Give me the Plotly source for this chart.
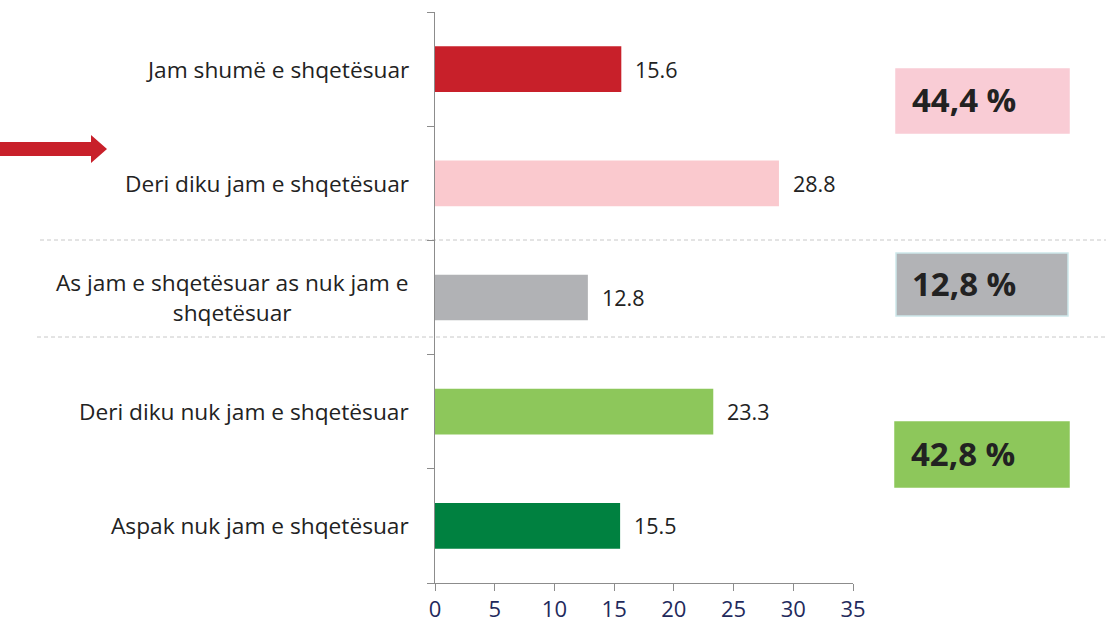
import plotly.graph_objects as go

categories = ["Jam shumë e shqetësuar", "Deri diku jam e shqetësuar",
              "As jam e shqetësuar as nuk jam e<br>shqetësuar",
              "Deri diku nuk jam e shqetësuar", "Aspak nuk jam e shqetësuar"]
values = [15.6, 28.8, 12.8, 23.3, 15.5]
value_labels = ["15.6", "28.8", "12.8", "23.3", "15.5"]
bar_colors = ["#c8202a", "#fac9ce", "#b1b2b5", "#8dc75b", "#008140"]
group_labels = ["44,4 %", "12,8 %", "42,8 %"]
group_colors = ["#f9ccd5", "#b2b3b6", "#8dc75b"]
group_borders = ["#f9ccd5", "#cde8ea", "#8dc75b"]
x_ticks = [0, 5, 10, 15, 20, 25, 30, 35]

W, H = 1106, 628
L, R, T, B = 435, 853, 12, 583
def px(xp): return (xp - L) / (R - L)
def py(yp): return (B - yp) / (B - T)

FONT = "Open Sans"

fig = go.Figure(go.Bar(
    y=categories, x=values, orientation="h",
    marker=dict(color=bar_colors, line=dict(width=0)),
    width=0.4, hoverinfo="skip"))

annotations = []
for c, v, t in zip(categories, values, value_labels):
    annotations.append(dict(x=v, y=c, xref="x", yref="y", text=t, showarrow=False,
                            xanchor="left", xshift=12,
                            font=dict(family=FONT, size=21.5, color="#222222")))
    annotations.append(dict(x=0, y=c, xref="paper", yref="y", text=c, showarrow=False,
                            xanchor="right", xshift=-24, align="center",
                            font=dict(family=FONT, size=22.7, color="#222222")))

shapes = []
# dashed separators
for yp, x0 in [(240, 40), (337, 37)]:
    shapes.append(dict(type="line", xref="paper", yref="paper",
                       x0=px(x0), x1=px(W), y0=py(yp), y1=py(yp),
                       line=dict(color="#c8c8c8", width=1, dash="4px,3px"), layer="below"))
# group boxes
boxes = [(896, 1069, 69, 133), (896, 1068, 253, 316), (895, 1069, 422, 487)]
for (x0, x1, y0, y1), fc, bc, lab in zip(boxes, group_colors, group_borders, group_labels):
    shapes.append(dict(type="rect", xref="paper", yref="paper",
                       x0=px(x0), x1=px(x1), y0=py(y1), y1=py(y0),
                       fillcolor=fc, line=dict(color=bc, width=1.5)))
    annotations.append(dict(x=px(x0 + 14), y=py((y0 + y1) / 2 - 1), xref="paper", yref="paper",
                            text="<b>" + lab + "</b>", showarrow=False,
                            xanchor="left", yanchor="middle",
                            font=dict(family=FONT, size=33, color="#222222")))
# arrow
ax0, ax1, ahx, acy = 0, 107, 91, 149
path = (f"M {px(ax0)},{py(acy-7)} L {px(ahx)},{py(acy-7)} L {px(ahx)},{py(acy-14)} "
        f"L {px(ax1)},{py(acy)} L {px(ahx)},{py(acy+14)} L {px(ahx)},{py(acy+7)} "
        f"L {px(ax0)},{py(acy+7)} Z")
shapes.append(dict(type="path", xref="paper", yref="paper", path=path,
                   fillcolor="#c8202a", line=dict(width=0)))

fig.update_layout(
    width=W, height=H,
    margin=dict(l=L, r=W - R, t=T, b=H - B, autoexpand=False),
    paper_bgcolor="white", plot_bgcolor="white",
    showlegend=False,
    bargap=0.6,
    xaxis=dict(range=[0, 35], tickvals=x_ticks, showgrid=False, zeroline=False,
               automargin=False,
               showline=True, linecolor="#8c8c8c", linewidth=1,
               ticks="outside", ticklen=7, tickcolor="#8c8c8c",
               tickfont=dict(family=FONT, size=22, color="#1f2a5c")),
    yaxis=dict(categoryorder="array", categoryarray=categories[::-1],
               showgrid=False, zeroline=False, showticklabels=False, automargin=False,
               showline=True, linecolor="#8c8c8c", linewidth=1,
               ticks="outside", ticklen=7, tickcolor="#8c8c8c", tickson="boundaries"),
    shapes=shapes, annotations=annotations,
)

fig.write_html("out.html", config={"displayModeBar": False},
               post_script="document.body.style.margin='0';")
